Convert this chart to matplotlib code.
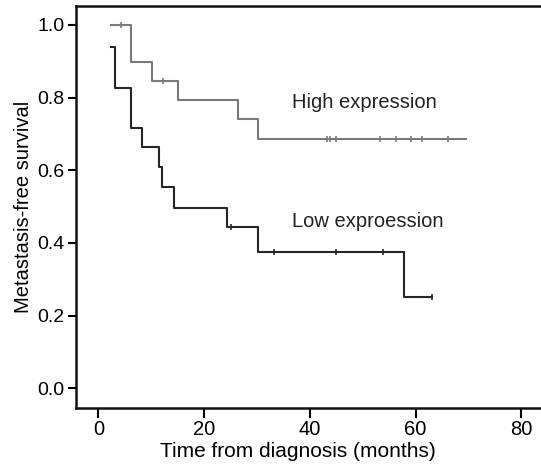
import numpy as np
import matplotlib
matplotlib.use("Agg")
import matplotlib.pyplot as plt

plt.rcParams['font.family'] = ['Liberation Sans Narrow', 'Liberation Sans', 'DejaVu Sans']

# high expression group (gray)
high_times = [2.4, 6.2, 10.2, 15.0, 26.4, 30.1]
high_surv = [1.0, 0.897, 0.846, 0.794, 0.741, 0.687]
high_end = 69.5
high_censor = [4.3, 12.2, 43.3, 43.8, 44.9, 53.3, 56.2, 59.2, 61.2, 66.2]

# low expression group (dark)
low_times = [2.4, 3.2, 6.2, 8.3, 11.4, 12.0, 14.4, 24.3, 30.1, 57.8]
low_surv = [0.940, 0.827, 0.717, 0.665, 0.609, 0.553, 0.497, 0.443, 0.376, 0.252]
low_end = 63.0
low_censor = [25.1, 33.3, 44.9, 53.8, 63.0]

xticks = [0, 20, 40, 60, 80]
yticks = [0.0, 0.2, 0.4, 0.6, 0.8, 1.0]


def km_line(ax, times, surv, end, censor, color):
    t = list(times) + [end]
    s = list(surv) + [surv[-1]]
    ax.step(t, s, where='post', color=color, lw=1.5)
    idx = np.searchsorted(times, censor, side='right') - 1
    cs = [surv[i] for i in idx]
    ax.plot(censor, cs, ls='none', marker='|', ms=5, mew=1.2, color=color)


fig = plt.figure(figsize=(5.41, 4.70), dpi=100)
ax = fig.add_axes([0.140, 0.1326, 0.860, 0.8547])

km_line(ax, high_times, high_surv, high_end, high_censor, '#7a7a7a')
km_line(ax, low_times, low_surv, low_end, low_censor, '#262626')

ax.text(36.7, 0.771, 'High expression', fontsize=14.5, color='#222222', va='baseline')
ax.text(36.7, 0.445, 'Low exproession', fontsize=14.5, color='#222222', va='baseline')

ax.set_xlim(-4.27, 83.7)
ax.set_ylim(-0.053, 1.052)
ax.set_xticks(xticks)
ax.set_yticks(yticks)
ax.set_xticklabels([str(v) for v in xticks], fontsize=14.5)
ax.set_yticklabels(['%.1f' % v for v in yticks], fontsize=14)
ax.tick_params(axis='x', length=7, width=1.5, pad=2)
ax.tick_params(axis='y', length=6, width=1.5, pad=2)
ax.spines['right'].set_visible(False)
for sp in ['left', 'bottom', 'top']:
    ax.spines[sp].set_linewidth(1.8)
    ax.spines[sp].set_color('#111111')

ax.set_xlabel('Time from diagnosis (months)', fontsize=15, labelpad=0)
ax.xaxis.set_label_coords(0.477, -0.085)
ax.set_ylabel('Metastasis-free survival', fontsize=14.5, labelpad=3)

fig.savefig('out.png', dpi=100)
